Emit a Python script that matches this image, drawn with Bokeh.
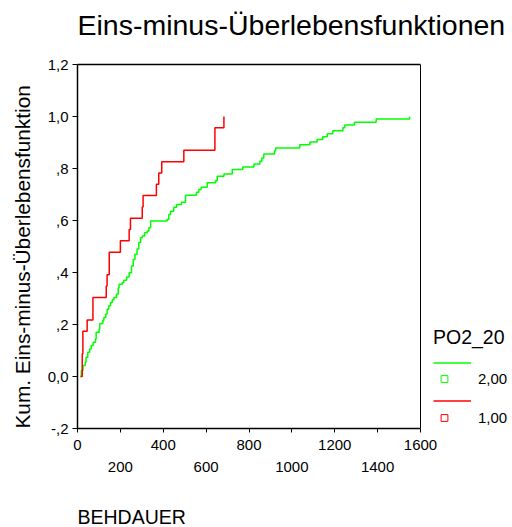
from bokeh.plotting import figure
from bokeh.models import (Range1d, FixedTicker, CustomJSTickFormatter, LinearAxis,
                          Legend, LegendItem, Span, Title)
from bokeh.embed import file_html
from bokeh.resources import INLINE

# ---------------- data ----------------
TITLE = "Eins-minus-Überlebensfunktionen"
Y_LABEL = "Kum.  Eins-minus-Überlebensfunktion"
X_LABEL = "BEHDAUER"
LEGEND_TITLE = "PO2_20"
GROUP_LABELS = ["2,00", "1,00"]

X_TICKS_ROW1 = [0, 400, 800, 1200, 1600]
X_TICKS_ROW2 = [200, 600, 1000, 1400]
Y_TICKS = [-0.2, 0.0, 0.2, 0.4, 0.6, 0.8, 1.0, 1.2]

# group 2,00 (green): event times and cumulative 1 - survival after each event
GREEN_TIME = [14, 18, 26, 36, 40, 48, 57, 64, 73, 84, 87, 101, 104, 118, 123, 132,
              138, 146, 154, 162, 170, 182, 190, 194, 208, 216, 229, 241, 252, 260,
              268, 278, 286, 294, 302, 313, 325, 333, 341, 418, 426, 434, 449, 462,
              485, 504, 555, 566, 577, 605, 644, 652, 683, 722, 771, 823, 851, 860,
              869, 919, 924, 1037, 1084, 1118, 1144, 1165, 1191, 1238, 1247, 1292,
              1393, 1549]
GREEN_CUM = [0.0, 0.023, 0.042, 0.055, 0.074, 0.093, 0.106, 0.119, 0.132, 0.144,
             0.170, 0.182, 0.204, 0.215, 0.227, 0.240, 0.259, 0.272, 0.285, 0.294,
             0.304, 0.317, 0.340, 0.355, 0.361, 0.370, 0.383, 0.399, 0.425, 0.450,
             0.470, 0.490, 0.515, 0.534, 0.540, 0.553, 0.560, 0.572, 0.598, 0.604,
             0.623, 0.636, 0.651, 0.662, 0.670, 0.697, 0.709, 0.719, 0.728, 0.745,
             0.753, 0.770, 0.779, 0.796, 0.806, 0.817, 0.828, 0.840, 0.856, 0.868,
             0.879, 0.891, 0.902, 0.912, 0.922, 0.934, 0.945, 0.957, 0.967, 0.978,
             0.990, 1.0]

# group 1,00 (red)
RED_TIME = [14, 22, 25, 45, 72, 134, 138, 148, 200, 241, 247, 302, 306, 368, 379,
            393, 496, 641, 683]
RED_CUM = [0.0, 0.087, 0.174, 0.217, 0.304, 0.348, 0.391, 0.478, 0.522, 0.565,
           0.609, 0.652, 0.696, 0.739, 0.783, 0.826, 0.870, 0.957, 1.0]

GREEN = "#00ff00"
RED = "#ff0000"
FONT = "Liberation Sans"

# layout (pixels): plot box from x=77 to 420, frame extended to the right edge
LEFT, BOX_RIGHT, WIDTH, HEIGHT = 77, 420, 512, 527
X_MIN, X_MAX = X_TICKS_ROW1[0], X_TICKS_ROW1[-1]
x_end = X_MIN + (X_MAX - X_MIN) * (WIDTH - LEFT) / (BOX_RIGHT - LEFT)

p = figure(width=WIDTH, height=HEIGHT, output_backend="svg", toolbar_location=None,
           title=None,
           x_range=Range1d(X_MIN, x_end),
           y_range=Range1d(Y_TICKS[0], Y_TICKS[-1]),
           min_border_left=LEFT, min_border_right=0, min_border_top=64,
           min_border_bottom=99)
p.background_fill_color = "white"
p.border_fill_color = "white"
p.outline_line_color = None
p.xgrid.visible = False
p.ygrid.visible = False

def spacer_label(ax, standoff):
    # empty axis label used only to push the next stacked element outwards
    ax.axis_label = " "
    ax.axis_label_text_font_size = "1px"
    ax.axis_label_standoff = standoff

def make_title(text, size):
    return Title(text=text, align="left", standoff=0, text_font=FONT,
                 text_font_size=size, text_font_style="normal", text_color="black")

# y axis
ya = p.yaxis[0]
ya.ticker = FixedTicker(ticks=Y_TICKS)
ya.formatter = CustomJSTickFormatter(code="""
const s = tick.toFixed(1).replace('.', ',');
return s.replace(/^(-?)0,(?!0$)/, '$1,');
""")
ya.major_tick_out = 5
ya.major_tick_in = 0
ya.minor_tick_out = 0
ya.minor_tick_in = 0
ya.major_label_standoff = 4
ya.major_label_text_font = FONT
ya.major_label_text_font_size = "15px"
ya.major_label_text_color = "black"
ya.axis_line_width = 1.5
spacer_label(ya, 7)
p.add_layout(make_title(Y_LABEL, "20.8px"), "left")

# x axis row 1 (ticks every 200, labels every 400)
xa = p.xaxis[0]
xa.bounds = (X_MIN, X_MAX)
xa.ticker = FixedTicker(ticks=sorted(X_TICKS_ROW1 + X_TICKS_ROW2))
xa.formatter = CustomJSTickFormatter(args=dict(row=X_TICKS_ROW1), code="""
return row.includes(tick) ? String(tick) : '';
""")
xa.major_tick_out = 4
xa.major_tick_in = 0
xa.minor_tick_out = 0
xa.minor_tick_in = 0
xa.major_label_standoff = 7
xa.major_label_text_font = FONT
xa.major_label_text_font_size = "15px"
xa.major_label_text_color = "black"
xa.axis_line_width = 1.5

# x axis row 2 (staggered labels)
xa2 = LinearAxis(ticker=FixedTicker(ticks=X_TICKS_ROW2), bounds=(X_MIN, X_MAX))
xa2.axis_line_color = None
xa2.major_tick_out = 0
xa2.major_tick_in = 0
xa2.minor_tick_out = 0
xa2.minor_tick_in = 0
xa2.major_label_standoff = 9
xa2.major_label_text_font = FONT
xa2.major_label_text_font_size = "15px"
xa2.major_label_text_color = "black"
spacer_label(xa2, 25)
p.add_layout(xa2, "below")
p.add_layout(make_title(X_LABEL, "19.5px"), "below")

# top border of the plot box
ta = LinearAxis(ticker=FixedTicker(ticks=[]), bounds=(X_MIN, X_MAX))
ta.major_tick_out = 0
ta.major_tick_in = 0
ta.minor_tick_out = 0
ta.minor_tick_in = 0
ta.axis_line_width = 1.5
spacer_label(ta, 20)
p.add_layout(ta, "above")
p.add_layout(make_title(TITLE, "28.5px"), "above")

# right border of the plot box
p.add_layout(Span(location=X_MAX, dimension="height", line_color="black", line_width=1))

# ---------------- curves ----------------
g_line = p.step(GREEN_TIME, GREEN_CUM, mode="after", line_color=GREEN, line_width=1.5)
r_line = p.step(RED_TIME, RED_CUM, mode="after", line_color=RED, line_width=1.5)
# marker renderers used for the legend symbols only (hidden in the plot)
g_mark = p.scatter(GREEN_TIME, GREEN_CUM, marker="square", size=7, fill_color=None,
                   line_color=GREEN, line_width=1, visible=False)
r_mark = p.scatter(RED_TIME, RED_CUM, marker="square", size=7, fill_color=None,
                   line_color=RED, line_width=1, visible=False)

# ---------------- legend (right of the plot box) ----------------
def make_legend(items, loc, gw, standoff, title=None):
    kw = dict(items=items, location=loc, orientation="vertical",
              padding=0, margin=0, spacing=0,
              glyph_width=gw, glyph_height=17, label_height=17,
              label_standoff=standoff,
              label_text_font=FONT, label_text_font_size="15px",
              label_text_color="black",
              inactive_fill_alpha=0,
              border_line_color=None, background_fill_alpha=0)
    if title is not None:
        kw.update(title=title, title_text_font=FONT, title_text_font_size="19.5px",
                  title_text_font_style="normal", title_text_color="black",
                  title_standoff=5)
    lg = Legend(**kw)
    p.add_layout(lg, "center")
    return lg

make_legend([LegendItem(label=" ", renderers=[g_line])], (356, 57), 38, 7, LEGEND_TITLE)
make_legend([LegendItem(label=GROUP_LABELS[0], renderers=[g_mark])], (356, 41), 22, 23)
make_legend([LegendItem(label=" ", renderers=[r_line])], (356, 19), 38, 7)
make_legend([LegendItem(label=GROUP_LABELS[1], renderers=[r_mark])], (356, 2), 22, 23)

open("out.html", "w").write(file_html(p, INLINE))
